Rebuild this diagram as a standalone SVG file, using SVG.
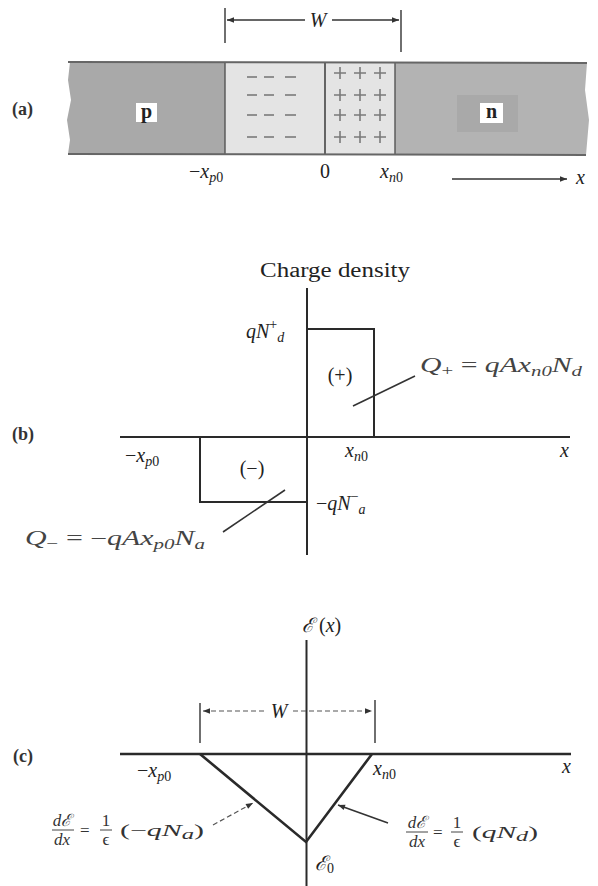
<svg xmlns="http://www.w3.org/2000/svg" width="598" height="886" viewBox="0 0 598 886">
<defs>
<style>
text{font-family:"Liberation Serif","Times New Roman",serif;fill:#222;font-size:20px}
.it{font-style:italic}
.sub{font-size:14px;font-style:italic}
.subn{font-size:14px}
.tag{font-size:18px;font-weight:bold;fill:#333}
.ax{stroke:#2a2a2a;stroke-width:2;fill:none}
.ax3{stroke:#2a2a2a;stroke-width:2.6;fill:none}
.thin{stroke:#333;stroke-width:1.4;fill:none}
.lead{stroke:#333;stroke-width:1.6;fill:none}
.dash{stroke:#555;stroke-width:1.2;stroke-dasharray:5 3;fill:none}
.ch{stroke:#7a7a7a;stroke-width:1.6}
.gl{font-size:17px;fill:#333}
</style>
<marker id="ah" viewBox="0 0 10 10" refX="10" refY="5" markerWidth="9" markerHeight="7" orient="auto" markerUnits="userSpaceOnUse">
<path d="M0,1 L10,5 L0,9 Z" fill="#333"/>
</marker>
</defs>
<rect width="598" height="886" fill="#fff"/>

<!-- (a) -->
<g id="panel-a">
<text class="tag" x="12" y="115">(a)</text>
<g id="p-region">
<path d="M70,62 L225,62 L225,154 L68,154 L70,140 L67,120 L71,100 L68,80 Z" fill="#a9a9a9"/>
<rect x="136" y="103" width="21" height="19" fill="#fff"/>
<text x="146.5" y="118" text-anchor="middle" font-size="18" font-weight="bold">p</text>
</g>
<g id="depletion">
<rect x="225" y="62" width="170" height="92" fill="#e4e4e4"/>
<g class="ch">
<line x1="247" y1="77" x2="257" y2="77"/><line x1="264" y1="77" x2="274" y2="77"/><line x1="285" y1="77" x2="296" y2="77"/>
<line x1="247" y1="95" x2="257" y2="95"/><line x1="264" y1="95" x2="274" y2="95"/><line x1="285" y1="95" x2="296" y2="95"/>
<line x1="247" y1="115" x2="257" y2="115"/><line x1="264" y1="115" x2="274" y2="115"/><line x1="285" y1="115" x2="296" y2="115"/>
<line x1="247" y1="137" x2="257" y2="137"/><line x1="264" y1="137" x2="274" y2="137"/><line x1="285" y1="137" x2="296" y2="137"/>
<path d="M334,73h12M340,67v12M354,73h12M360,67v12M374,73h12M380,67v12"/>
<path d="M334,95h12M340,89v12M354,95h12M360,89v12M374,95h12M380,89v12"/>
<path d="M334,115h12M340,109v12M354,115h12M360,109v12M374,115h12M380,109v12"/>
<path d="M334,137h12M340,131v12M354,137h12M360,131v12M374,137h12M380,131v12"/>
</g>
<line x1="325" y1="62" x2="325" y2="154" stroke="#444" stroke-width="1.6"/>
</g>
<g id="n-region">
<path d="M395,62 L587,63 L585,90 L589,120 L586,155 L395,154 Z" fill="#b3b3b3"/>
<rect x="457" y="95" width="61" height="37" fill="#a9a9a9"/>
<rect x="480" y="103" width="23" height="20" fill="#fff"/>
<text x="491.5" y="118" text-anchor="middle" font-size="18" font-weight="bold">n</text>
</g>
<line x1="225" y1="62" x2="225" y2="154" stroke="#555" stroke-width="1.4"/>
<line x1="395" y1="62" x2="395" y2="154" stroke="#555" stroke-width="1.4"/>
<line x1="68" y1="62" x2="587" y2="63" stroke="#666" stroke-width="2"/>
<line x1="68" y1="154" x2="586" y2="155" stroke="#666" stroke-width="2"/>
<g id="W-a">
<line class="thin" x1="225" y1="8" x2="225" y2="43"/>
<line class="thin" x1="401" y1="10" x2="401" y2="52"/>
<line class="thin" x1="305" y1="20" x2="227" y2="20" marker-end="url(#ah)"/>
<line class="thin" x1="332" y1="20" x2="399" y2="20" marker-end="url(#ah)"/>
<text class="it" x="318" y="27" text-anchor="middle">W</text>
</g>
<text x="189" y="178">−<tspan class="it">x</tspan><tspan class="sub" dy="4">p</tspan><tspan class="subn">0</tspan></text>
<text x="325" y="178" text-anchor="middle">0</text>
<text x="380" y="178"><tspan class="it">x</tspan><tspan class="sub" dy="4">n</tspan><tspan class="subn">0</tspan></text>
<line class="thin" x1="452" y1="179" x2="567" y2="179" marker-end="url(#ah)"/>
<text class="it" x="576" y="184">x</text>
</g>

<!-- (b) -->
<g id="panel-b">
<text class="tag" x="12" y="440">(b)</text>
<text x="260" y="277" textLength="150" lengthAdjust="spacingAndGlyphs">Charge density</text>
<g id="axes-b">
<line class="ax" x1="307" y1="288" x2="307" y2="555"/>
<line class="ax" x1="120" y1="437" x2="570" y2="437"/>
</g>
<g id="pos-charge">
<polyline class="ax" points="307,329 374,329 374,437"/>
<text x="340" y="382" text-anchor="middle">(+)</text>
</g>
<g id="neg-charge">
<polyline class="ax" points="200,437 200,502 307,502"/>
<text x="252" y="475" text-anchor="middle">(−)</text>
</g>
<text x="246" y="338"><tspan class="it">qN</tspan><tspan class="subn" dy="-9">+</tspan><tspan class="sub" dy="13">d</tspan></text>
<text x="316" y="510">−<tspan class="it">qN</tspan><tspan class="subn" dy="-9">−</tspan><tspan class="sub" dy="13">a</tspan></text>
<text x="345" y="457"><tspan class="it">x</tspan><tspan class="sub" dy="4">n</tspan><tspan class="subn">0</tspan></text>
<text x="125" y="462">−<tspan class="it">x</tspan><tspan class="sub" dy="4">p</tspan><tspan class="subn">0</tspan></text>
<text class="it" x="560" y="457">x</text>
<g id="Qplus">
<line class="lead" x1="415" y1="376" x2="353" y2="406"/>
<text x="420" y="372" style="fill:#444" textLength="162" lengthAdjust="spacingAndGlyphs"><tspan class="it">Q</tspan><tspan class="subn" dy="3">+</tspan><tspan dy="-3"> = </tspan><tspan class="it">qAx</tspan><tspan class="sub" dy="4">n0</tspan><tspan class="it" dy="-4">N</tspan><tspan class="sub" dy="4">d</tspan></text>
</g>
<g id="Qminus">
<line class="lead" x1="223" y1="532" x2="285" y2="490"/>
<text x="25" y="545" style="fill:#444" textLength="180" lengthAdjust="spacingAndGlyphs"><tspan class="it">Q</tspan><tspan class="subn" dy="3">−</tspan><tspan dy="-3"> = −</tspan><tspan class="it">qAx</tspan><tspan class="sub" dy="4">p0</tspan><tspan class="it" dy="-4">N</tspan><tspan class="sub" dy="4">a</tspan></text>
</g>
</g>

<!-- (c) -->
<g id="panel-c">
<text class="tag" x="13" y="762">(c)</text>
<text x="302" y="632"><tspan class="it">ℰ</tspan> (<tspan class="it">x</tspan>)</text>
<g id="axes-c">
<line class="ax" x1="306.5" y1="640" x2="306.5" y2="886"/>
<line class="ax3" x1="120" y1="754" x2="571" y2="754"/>
</g>
<g id="W-c">
<line class="thin" x1="200" y1="703" x2="200" y2="743"/>
<line class="thin" x1="375" y1="700" x2="375" y2="743"/>
<line class="dash" x1="264" y1="711" x2="203" y2="711" marker-end="url(#ah)"/>
<line class="dash" x1="293" y1="711" x2="372" y2="711" marker-end="url(#ah)"/>
<text class="it" x="279" y="718" text-anchor="middle">W</text>
</g>
<g id="field">
<polyline class="ax3" points="200,754 306,842 372,754"/>
</g>
<text x="137" y="777">−<tspan class="it">x</tspan><tspan class="sub" dy="4">p</tspan><tspan class="subn">0</tspan></text>
<text x="373" y="775"><tspan class="it">x</tspan><tspan class="sub" dy="4">n</tspan><tspan class="subn">0</tspan></text>
<text class="it" x="562" y="773">x</text>
<text x="315" y="870"><tspan class="it">ℰ</tspan><tspan class="subn" dy="3">0</tspan></text>
<g id="slope-left">
<line class="dash" x1="213" y1="825" x2="253" y2="803" marker-end="url(#ah)"/>
<text class="gl it" x="62" y="826" text-anchor="middle">dℰ</text>
<line x1="52" y1="830" x2="74" y2="830" stroke="#444" stroke-width="1"/>
<text class="gl it" x="62" y="845" text-anchor="middle">dx</text>
<text class="gl" x="80" y="836">=</text>
<text class="gl" x="106" y="826" text-anchor="middle">1</text>
<line x1="100" y1="830" x2="112" y2="830" stroke="#444" stroke-width="1"/>
<text class="gl" x="106" y="845" text-anchor="middle">ϵ</text>
<text class="gl" x="120" y="836" textLength="84" lengthAdjust="spacingAndGlyphs">(−<tspan class="it">qN</tspan><tspan class="sub" dy="3">a</tspan><tspan dy="-3">)</tspan></text>
</g>
<g id="slope-right">
<line class="lead" x1="388" y1="823" x2="338" y2="805" marker-end="url(#ah)"/>
<text class="gl it" x="417" y="828" text-anchor="middle">dℰ</text>
<line x1="406" y1="832" x2="428" y2="832" stroke="#444" stroke-width="1"/>
<text class="gl it" x="417" y="847" text-anchor="middle">dx</text>
<text class="gl" x="433" y="838">=</text>
<text class="gl" x="457" y="828" text-anchor="middle">1</text>
<line x1="451" y1="832" x2="463" y2="832" stroke="#444" stroke-width="1"/>
<text class="gl" x="457" y="847" text-anchor="middle">ϵ</text>
<text class="gl" x="472" y="838" textLength="66" lengthAdjust="spacingAndGlyphs">(<tspan class="it">qN</tspan><tspan class="sub" dy="3">d</tspan><tspan dy="-3">)</tspan></text>
</g>
</g>
</svg>
